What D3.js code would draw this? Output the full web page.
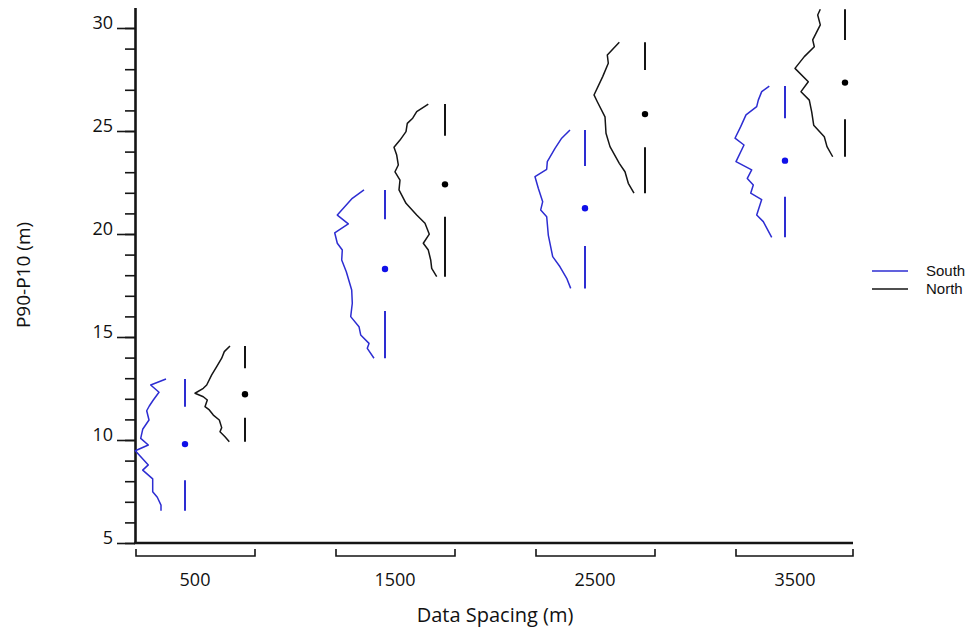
<!DOCTYPE html>
<html>
<head>
<meta charset="utf-8">
<script src="https://cdnjs.cloudflare.com/ajax/libs/d3/7.8.5/d3.min.js"></script>
<style>
  body { margin: 0; background: #fff; }
  svg text { font-family: "Open Sans", "Noto Sans", sans-serif; fill: #111; }
</style>
</head>
<body>
<svg id="chart" width="972" height="632"></svg>
<script>
// Data spacing groups
var spacings = ["500", "1500", "2500", "3500"];

// Tufte style boxplot stats: min, q1, median, q3, max
var southMin = [6.57, 13.97, 17.36, 19.84];
var southQ1  = [8.05, 16.26, 19.42, 21.81];
var southMed = [9.80, 18.30, 21.25, 23.56];
var southQ3  = [11.62, 20.71, 23.30, 25.62];
var southMax = [12.96, 22.14, 25.05, 27.18];

var northMin = [9.92, 17.93, 21.98, 23.75];
var northQ1  = [11.08, 20.84, 24.21, 25.57];
var northMed = [12.22, 22.41, 25.82, 27.35];
var northQ3  = [13.48, 24.77, 27.96, 29.42];
var northMax = [14.56, 26.31, 29.31, 30.91];

// Half-violin outlines: [value, density]
var southDens500 = [[12.96,13],[12.67,28.3],[12.32,20],[11.94,25.7],[11.65,29.7],[11.42,32.3],[10.97,30],[10.52,36.3],[10.08,38.3],[9.76,30.7],[9.48,43.7],[8.79,30.7],[8.54,36.3],[8.11,26.3],[7.49,26.3],[7.22,21.7],[6.84,18],[6.57,18]];
var northDens500 = [[14.56,9],[14.29,14.7],[13.97,17.3],[13.56,22.3],[13.16,27.3],[12.67,32.3],[12.51,35.7],[12.27,44],[12.10,35.7],[11.94,31.7],[11.62,34],[11.46,29.7],[11.21,25.7],[10.97,19.7],[10.60,17.3],[10.40,19],[10.16,14],[9.92,9.7]];
var southDens1500 = [[22.14,15],[21.73,26.7],[20.92,41.7],[20.49,30.7],[20.06,44.3],[19.55,41.7],[19.22,36.7],[18.74,37.3],[18.17,32.7],[17.28,27.3],[16.64,26.7],[15.99,28.3],[15.50,20],[15.10,18.3],[14.69,10],[14.45,11.7],[13.97,5]];
var northDens1500 = [[26.31,10.7],[25.94,22.3],[25.62,26.3],[25.37,31.7],[24.97,33],[24.56,39],[24.21,45],[23.83,42.3],[23.35,40.7],[23.02,44],[22.62,39],[22.14,40],[21.49,33],[20.92,22.3],[20.52,14],[19.99,9.7],[19.55,15.7],[19.22,10.7],[18.74,8.3],[18.33,7.3],[17.93,2.3]];
var southDens2500 = [[25.05,9],[24.65,17.3],[24.16,24],[23.51,31.7],[23.14,32.3],[22.78,44],[22.22,40.7],[21.57,36.3],[21.17,38.3],[20.84,32.3],[19.95,30.7],[18.90,26.3],[18.41,19],[17.85,12.3],[17.36,8.3]];
var northDens2500 = [[29.31,19.7],[28.69,31.7],[28.29,30.7],[27.64,36.3],[26.75,45],[26.42,41.7],[25.69,34],[24.89,33],[24.24,29],[23.43,19.7],[23.02,14],[22.46,10.7],[21.98,5]];
var southDens3500 = [[27.18,9.7],[26.91,17.3],[26.50,20.7],[26.18,22.3],[25.78,33],[25.21,38.3],[24.65,44],[24.32,35],[23.51,43],[23.11,27.3],[22.70,31.7],[22.38,25.7],[21.98,28.3],[21.67,17.3],[20.92,22.3],[20.60,15.7],[19.84,7.3]];
var northDens3500 = [[30.91,18.7],[30.63,21.3],[30.15,18.7],[29.74,23],[29.42,26.3],[29.09,24.7],[28.61,34.7],[28.04,44],[27.39,30.7],[26.91,38],[26.50,29.7],[25.93,27.3],[25.28,25.3],[24.72,14.7],[24.24,12],[23.75,6.3]];

var southDens = [southDens500, southDens1500, southDens2500, southDens3500];
var northDens = [northDens500, northDens1500, northDens2500, northDens3500];

var yMajorTicks = [5, 10, 15, 20, 25, 30];

var blue = "#2d2dd2", blueDot = "#1010e8", black = "#151515";

var svg = d3.select("#chart");

var y = d3.scaleLinear().domain([5, 31]).range([543, 7.4]);
var x = d3.scaleBand().domain(spacings).range([135, 855]).paddingInner(0.4).paddingOuter(0);
// density -> horizontal px
var w = d3.scaleLinear().domain([0, 45]).range([0, 45]);

var southOff = 50, northOff = 110, gap = 6;

// Y axis: minor ticks then major ticks with labels
svg.append("g")
    .attr("transform", "translate(135,0)")
    .call(d3.axisLeft(y).tickValues(d3.range(5, 31, 1)).tickSize(10).tickSizeOuter(0).tickFormat(""))
    .call(function(g) { g.select(".domain").remove(); })
    .selectAll("line").attr("stroke", black).attr("stroke-width", 1.6);

var yMaj = svg.append("g")
    .attr("transform", "translate(135,0)")
    .call(d3.axisLeft(y).tickValues(yMajorTicks).tickSize(18).tickSizeOuter(0).tickPadding(4));
yMaj.select(".domain").attr("stroke", black).attr("stroke-width", 2.6);
yMaj.selectAll(".tick line").attr("stroke", black).attr("stroke-width", 1.6);
yMaj.selectAll(".tick text").attr("font-size", 18).attr("fill", "#111")
    .attr("font-family", "Open Sans, Noto Sans, sans-serif").attr("dy", "0.05em");

// X axis line
svg.append("line")
    .attr("x1", 134).attr("x2", x.range()[1] - 2)
    .attr("y1", y(5)).attr("y2", y(5))
    .attr("stroke", black).attr("stroke-width", 2.6);

// Group brackets and labels
var brk = svg.append("g").selectAll("g").data(spacings).enter().append("g");
brk.append("path")
    .attr("d", function(d) {
      var a = x(d) + 1, b = Math.min(x(d) + x.bandwidth(), 853);
      return "M" + a + ",549V556H" + b + "V549";
    })
    .attr("fill", "none").attr("stroke", black).attr("stroke-width", 1.6);
brk.append("text")
    .attr("x", function(d) { return x(d) + x.bandwidth() / 2; })
    .attr("y", 586)
    .attr("text-anchor", "middle")
    .attr("font-size", 18)
    .text(function(d) { return d; });

// Axis titles
svg.append("text")
    .attr("x", 495).attr("y", 622)
    .attr("text-anchor", "middle").attr("font-size", 20)
    .text("Data Spacing (m)");
svg.append("text")
    .attr("transform", "translate(30,275) rotate(-90)")
    .attr("text-anchor", "middle").attr("font-size", 19)
    .text("P90-P10 (m)");

// Draw one half violin + Tufte box per series
function drawSeries(dens, mins, q1s, meds, q3s, maxs, off, col, dotCol) {
  spacings.forEach(function(s, i) {
    var bx = x(s) + off;
    var base = bx - gap;
    var line = d3.line()
        .x(function(d) { return base - w(d[1]); })
        .y(function(d) { return y(d[0]); });
    svg.append("path")
        .datum(dens[i])
        .attr("d", line)
        .attr("fill", "none").attr("stroke", col).attr("stroke-width", 1.5)
        .attr("stroke-linejoin", "round");
    svg.append("line")
        .attr("x1", bx).attr("x2", bx)
        .attr("y1", y(maxs[i])).attr("y2", y(q3s[i]))
        .attr("stroke", col).attr("stroke-width", 2);
    svg.append("line")
        .attr("x1", bx).attr("x2", bx)
        .attr("y1", y(q1s[i])).attr("y2", y(mins[i]))
        .attr("stroke", col).attr("stroke-width", 2);
    svg.append("circle")
        .attr("cx", bx).attr("cy", y(meds[i])).attr("r", 3.2)
        .attr("fill", dotCol);
  });
}

drawSeries(southDens, southMin, southQ1, southMed, southQ3, southMax, southOff, blue, blueDot);
drawSeries(northDens, northMin, northQ1, northMed, northQ3, northMax, northOff, black, "#000");

// Legend
var legend = svg.append("g");
var legItems = [["South", blue], ["North", black]];
legItems.forEach(function(it, i) {
  var ly = 271 + i * 18;
  legend.append("line")
      .attr("x1", 872).attr("x2", 908).attr("y1", ly).attr("y2", ly)
      .attr("stroke", it[1]).attr("stroke-width", 1.5);
  legend.append("text")
      .attr("x", 926).attr("y", ly + 5)
      .attr("font-size", 15)
      .style("font-family", "'Liberation Sans', Arial, sans-serif")
      .text(it[0]);
});
</script>
</body>
</html>
